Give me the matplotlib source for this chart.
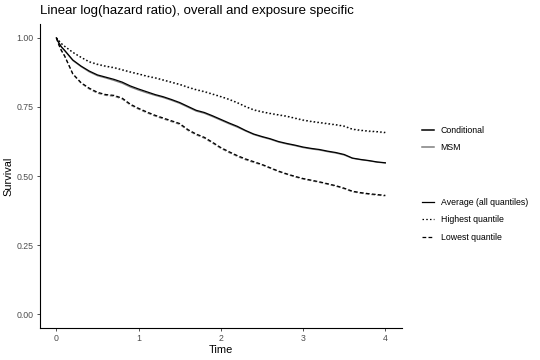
import matplotlib
matplotlib.use("Agg")
import matplotlib.pyplot as plt
from matplotlib.lines import Line2D

plt.rcParams['font.family'] = ['Liberation Sans', 'DejaVu Sans']

time = [0, 0.03, 0.06] + [i / 10 for i in range(1, 41)]

# conditional model, survival curves
avg_cond = [1.000, 0.982, 0.968,
            0.955, 0.920, 0.898, 0.880, 0.866, 0.858, 0.850, 0.840, 0.826,
            0.815, 0.805, 0.795, 0.787, 0.777, 0.766, 0.752, 0.738, 0.730, 0.718,
            0.705, 0.692, 0.680, 0.665, 0.652, 0.643, 0.635, 0.625, 0.618, 0.612,
            0.605, 0.600, 0.596, 0.590, 0.585, 0.578, 0.565, 0.560, 0.556, 0.551, 0.548]
high_cond = [1.000, 0.990, 0.980,
             0.970, 0.948, 0.930, 0.914, 0.905, 0.898, 0.893, 0.885, 0.877,
             0.870, 0.862, 0.856, 0.848, 0.840, 0.832, 0.822, 0.813, 0.806, 0.797,
             0.788, 0.778, 0.766, 0.752, 0.740, 0.733, 0.727, 0.722, 0.717, 0.710,
             0.703, 0.698, 0.694, 0.690, 0.686, 0.681, 0.670, 0.666, 0.663, 0.661, 0.658]
low_cond = [1.000, 0.975, 0.955,
            0.935, 0.870, 0.838, 0.818, 0.803, 0.795, 0.792, 0.782, 0.760,
            0.745, 0.732, 0.720, 0.710, 0.700, 0.690, 0.668, 0.652, 0.640, 0.622,
            0.603, 0.588, 0.574, 0.562, 0.552, 0.542, 0.530, 0.518, 0.508, 0.499,
            0.491, 0.485, 0.479, 0.472, 0.465, 0.456, 0.445, 0.440, 0.436, 0.433, 0.430]

# MSM, nearly on top of the conditional curves
avg_msm = [1.000, 0.981, 0.967,
           0.954, 0.918, 0.896, 0.877, 0.863, 0.855, 0.846, 0.836, 0.822,
           0.811, 0.801, 0.792, 0.784, 0.774, 0.763, 0.749, 0.735, 0.727, 0.715,
           0.702, 0.689, 0.677, 0.663, 0.650, 0.641, 0.633, 0.623, 0.616, 0.610,
           0.603, 0.598, 0.594, 0.588, 0.583, 0.576, 0.564, 0.559, 0.555, 0.550, 0.547]
high_msm = [1.000, 0.990, 0.979,
            0.969, 0.947, 0.929, 0.912, 0.903, 0.896, 0.891, 0.883, 0.875,
            0.868, 0.860, 0.854, 0.846, 0.838, 0.830, 0.820, 0.811, 0.804, 0.795,
            0.786, 0.776, 0.764, 0.750, 0.738, 0.731, 0.725, 0.720, 0.715, 0.708,
            0.701, 0.696, 0.692, 0.688, 0.684, 0.679, 0.668, 0.664, 0.661, 0.659, 0.656]
low_msm = [1.000, 0.974, 0.954,
           0.934, 0.868, 0.836, 0.815, 0.800, 0.792, 0.789, 0.779, 0.757,
           0.742, 0.729, 0.717, 0.707, 0.697, 0.687, 0.665, 0.649, 0.637, 0.619,
           0.600, 0.585, 0.571, 0.559, 0.549, 0.540, 0.528, 0.516, 0.506, 0.497,
           0.489, 0.483, 0.477, 0.470, 0.463, 0.454, 0.443, 0.438, 0.434, 0.431, 0.428]

styles = {'avg': '-', 'high': (0, (1.2, 1.8)), 'low': (0, (3, 1.8))}
grey = '#7f7f7f'

fig = plt.figure(figsize=(5.4, 3.6), dpi=100)
ax = fig.add_axes([0.074, 0.089, 0.67, 0.844])

for y, ls in [(avg_msm, styles['avg']), (high_msm, styles['high']), (low_msm, styles['low'])]:
    ax.plot(time, y, color=grey, lw=0.9, linestyle=ls)
for y, ls in [(avg_cond, styles['avg']), (high_cond, styles['high']), (low_cond, styles['low'])]:
    ax.plot(time, y, color='black', lw=0.9, linestyle=ls)

ax.set_xlim(-0.2, 4.2)
ax.set_ylim(-0.05, 1.05)
ax.set_xticks([0, 1, 2, 3, 4])
ax.set_yticks([0, 0.25, 0.5, 0.75, 1.0])
ax.set_yticklabels(['0.00', '0.25', '0.50', '0.75', '1.00'])
ax.tick_params(labelsize=6.3, labelcolor='#4d4d4d', color='#333333', length=2.5, width=0.6, pad=2)
for s in ['top', 'right']:
    ax.spines[s].set_visible(False)
for s in ['left', 'bottom']:
    ax.spines[s].set_linewidth(0.8)

ax.set_xlabel('Time', fontsize=7.9, labelpad=1)
ax.set_ylabel('Survival', fontsize=7.9)
ax.yaxis.set_label_coords(-0.072, 0.5)
ax.set_title('Linear log(hazard ratio), overall and exposure specific', fontsize=9.5, loc='left', pad=7)

h1 = [Line2D([], [], color='black', lw=1.1), Line2D([], [], color=grey, lw=1.1)]
fig.legend(h1, ['Conditional', 'MSM'], loc='center left', bbox_to_anchor=(0.774, 0.614),
           frameon=False, fontsize=6.3, handlelength=1.3, handletextpad=0.8,
           labelspacing=1.0, borderpad=0)
h2 = [Line2D([], [], color='black', lw=0.9, linestyle=styles[k]) for k in ['avg', 'high', 'low']]
fig.legend(h2, ['Average (all quantiles)', 'Highest quantile', 'Lowest quantile'],
           loc='center left', bbox_to_anchor=(0.774, 0.389), frameon=False, fontsize=6.3,
           handlelength=1.3, handletextpad=0.8, labelspacing=1.0, borderpad=0)

fig.savefig('out.png', dpi=100)
